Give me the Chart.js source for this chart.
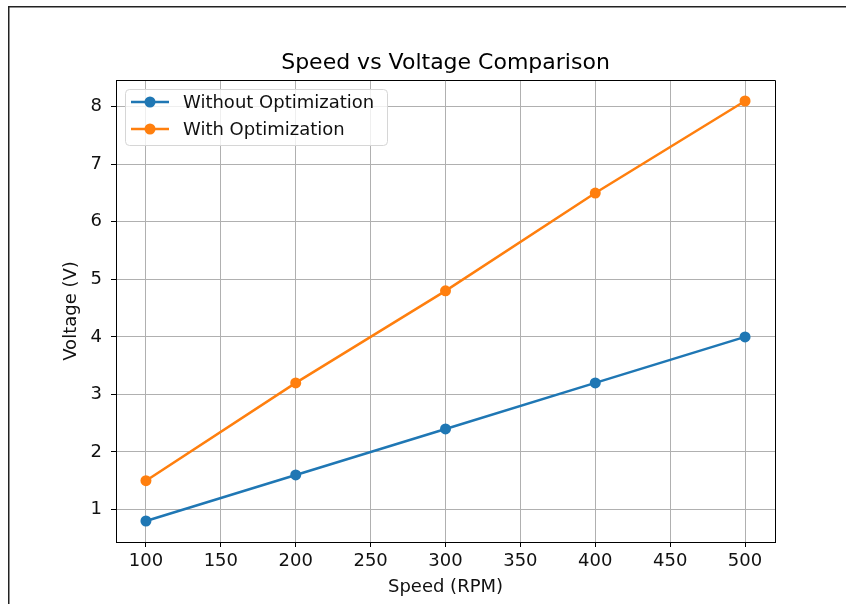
<!DOCTYPE html>
<html>
<head>
<meta charset="utf-8">
<script src="https://cdn.jsdelivr.net/npm/chart.js@4.4.1/dist/chart.umd.min.js"></script>
<style>
  body { margin: 0; background: #fff; }
  #wrap { width: 846px; height: 604px; }
</style>
</head>
<body>
<div id="wrap"><canvas id="myChart" width="846" height="604"></canvas></div>
<script>
// values
const speeds = [100, 200, 300, 400, 500];
const voltWithout = [0.8, 1.6, 2.4, 3.2, 4.0];
const voltWith = [1.5, 3.2, 4.8, 6.5, 8.1];
const xTicks = [100, 150, 200, 250, 300, 350, 400, 450, 500];
const yTicks = [1, 2, 3, 4, 5, 6, 7, 8];
const chartTitle = 'Speed vs Voltage Comparison';

const FONT = "'DejaVu Sans', sans-serif";
const BLUE = '#1f77b4';
const ORANGE = '#ff7f0e';
const GRID = '#b0b0b0';

// white background, figure frame, title over the axes, top/right spines, legend
const figurePlugin = {
    id: 'figure',
    beforeDraw(chart) {
        const ctx = chart.ctx;
        ctx.save();
        ctx.fillStyle = '#fff';
        ctx.fillRect(0, 0, chart.width, chart.height);
        ctx.strokeStyle = '#222';
        ctx.lineWidth = 1.5;
        ctx.beginPath();
        ctx.moveTo(8.75, chart.height);
        ctx.lineTo(8.75, 6.75);
        ctx.lineTo(chart.width, 6.75);
        ctx.stroke();
        ctx.restore();
    },
    afterDraw(chart) {
        const ctx = chart.ctx;
        const a = chart.chartArea;
        ctx.save();

        // title centred over the plot area, like plt.title
        ctx.fillStyle = '#000';
        ctx.font = '22px ' + FONT;
        ctx.textAlign = 'center';
        ctx.textBaseline = 'alphabetic';
        ctx.fillText(chartTitle, (a.left + a.right) / 2, a.top - 11);

        ctx.strokeStyle = '#000';
        ctx.lineWidth = 1;
        ctx.beginPath();
        ctx.moveTo(a.left, a.top + 0.5);
        ctx.lineTo(a.right + 0.5, a.top + 0.5);
        ctx.lineTo(a.right + 0.5, a.bottom);
        ctx.stroke();

        // legend like matplotlib's, inside the upper left corner
        const x0 = a.left + 9, y0 = a.top + 9, w = 262, h = 56, r = 4;
        ctx.beginPath();
        ctx.roundRect(x0 + 0.5, y0 + 0.5, w, h, r);
        ctx.fillStyle = 'rgba(255,255,255,0.8)';
        ctx.fill();
        ctx.strokeStyle = '#d6d6d6';
        ctx.stroke();
        ctx.font = '18px ' + FONT;
        ctx.textAlign = 'left';
        ctx.textBaseline = 'middle';
        chart.data.datasets.forEach(function (ds, i) {
            const y = y0 + 13 + i * 27;
            ctx.strokeStyle = ds.borderColor;
            ctx.lineWidth = 2.5;
            ctx.beginPath();
            ctx.moveTo(x0 + 6, y);
            ctx.lineTo(x0 + 44, y);
            ctx.stroke();
            ctx.fillStyle = ds.backgroundColor;
            ctx.beginPath();
            ctx.arc(x0 + 25, y, 5.5, 0, Math.PI * 2);
            ctx.fill();
            ctx.fillStyle = '#111';
            ctx.fillText(ds.label, x0 + 58, y + 1);
        });
        ctx.restore();
    }
};

const ctx = document.getElementById('myChart');

new Chart(ctx, {
    type: 'line',
    data: {
        datasets: [{
            label: 'Without Optimization',
            data: speeds.map((s, i) => ({ x: s, y: voltWithout[i] })),
            borderColor: BLUE,
            backgroundColor: BLUE,
            borderWidth: 2.5,
            pointRadius: 5.5,
            pointBorderWidth: 0,
            pointHoverRadius: 5.5,
            tension: 0
        }, {
            label: 'With Optimization',
            data: speeds.map((s, i) => ({ x: s, y: voltWith[i] })),
            borderColor: ORANGE,
            backgroundColor: ORANGE,
            borderWidth: 2.5,
            pointRadius: 5.5,
            pointBorderWidth: 0,
            pointHoverRadius: 5.5,
            tension: 0
        }]
    },
    plugins: [figurePlugin],
    options: {
        responsive: false,
        animation: false,
        devicePixelRatio: 1,
        layout: { padding: { top: 80, right: 71, bottom: 0, left: 0 } },
        plugins: {
            legend: { display: false },
            tooltip: { enabled: false },
            title: { display: false }
        },
        scales: {
            x: {
                type: 'linear',
                min: 80,
                max: 520,
                afterBuildTicks: function (scale) {
                    scale.ticks = xTicks.map(v => ({ value: v }));
                },
                afterFit: function (scale) { scale.height = 62; },
                grid: { color: GRID, lineWidth: 1, tickColor: '#000', tickLength: 5 },
                border: { display: true, color: '#000', width: 1 },
                ticks: {
                    color: '#111',
                    font: { family: FONT, size: 18 },
                    padding: 4,
                    maxRotation: 0,
                    autoSkip: false
                },
                title: {
                    display: true,
                    text: 'Speed (RPM)',
                    color: '#111',
                    font: { family: FONT, size: 18 },
                    padding: { top: 0, bottom: 6 }
                }
            },
            y: {
                type: 'linear',
                min: 0.435,
                max: 8.465,
                afterBuildTicks: function (scale) {
                    scale.ticks = yTicks.map(v => ({ value: v }));
                },
                afterFit: function (scale) { scale.width = 116; },
                grid: { color: GRID, lineWidth: 1, tickColor: '#000', tickLength: 5 },
                border: { display: true, color: '#000', width: 1 },
                ticks: {
                    color: '#111',
                    font: { family: FONT, size: 18 },
                    padding: 9
                },
                title: {
                    display: true,
                    text: 'Voltage (V)',
                    color: '#111',
                    font: { family: FONT, size: 18 },
                    padding: { top: 61, bottom: 0 }
                }
            }
        }
    }
});
</script>
</body>
</html>
